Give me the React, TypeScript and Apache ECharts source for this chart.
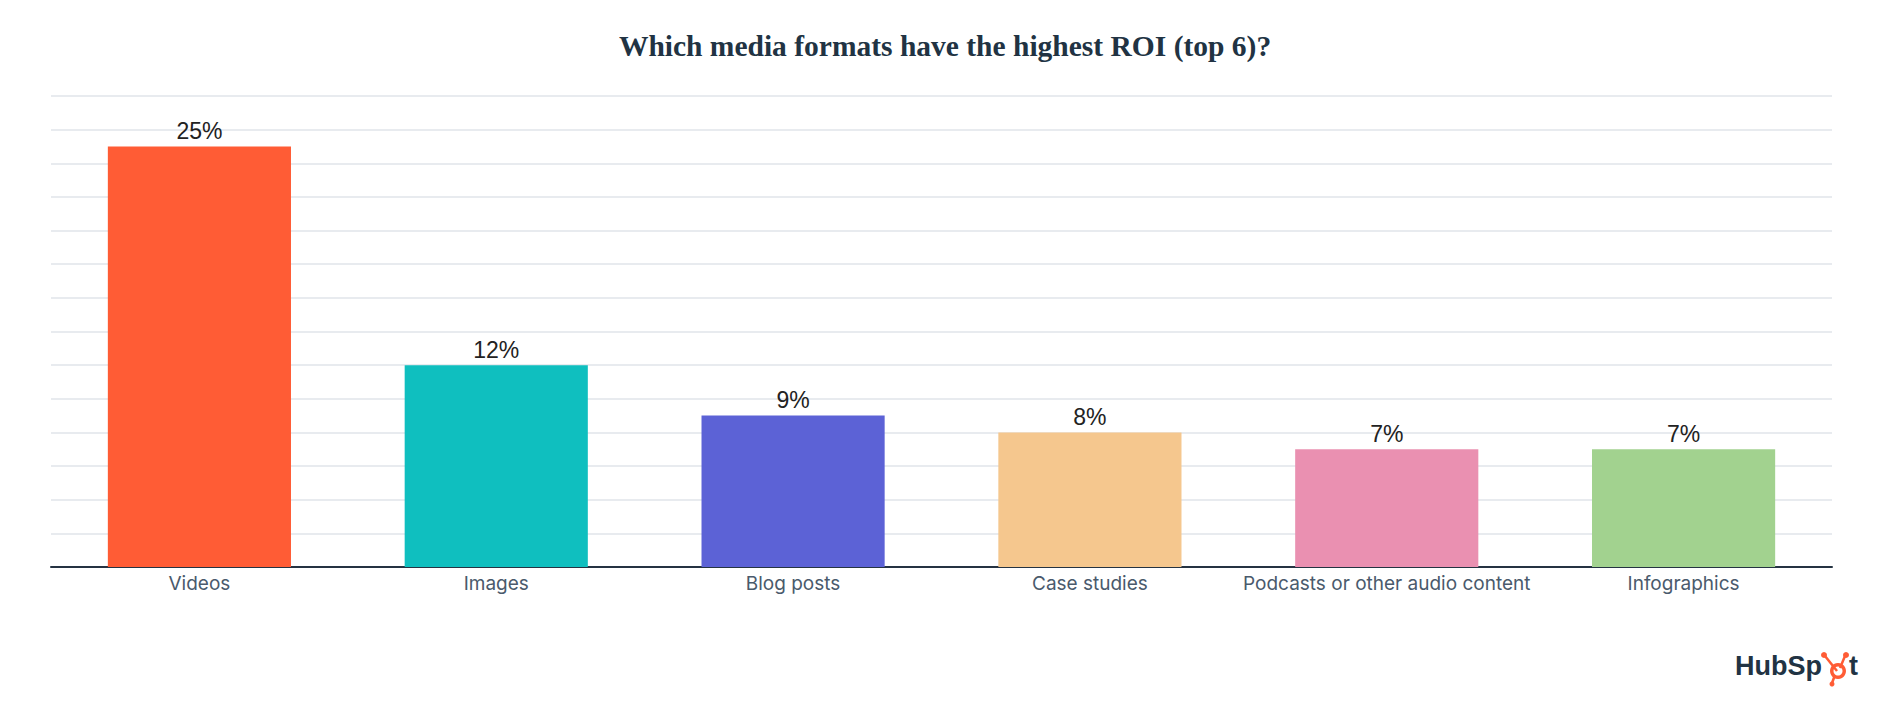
import React, { useEffect, useRef } from "react";
import * as echarts from "echarts";

const titleText = "Which media formats have the highest ROI (top 6)?";
const categories = [
  "Videos",
  "Images",
  "Blog posts",
  "Case studies",
  "Podcasts or other audio content",
  "Infographics",
];
const values = [25, 12, 9, 8, 7, 7];
const barColors = ["#FF5C35", "#0FBFBF", "#5C62D6", "#F5C78E", "#EA90B1", "#A2D28F"];
const yMin = 0;
const yMax = 28;
const yInterval = 2;

export default function App() {
  const ref = useRef<HTMLDivElement>(null);
  useEffect(() => {
    if (!ref.current) return;
    const chart = echarts.init(ref.current, undefined, { renderer: "svg" });
    const navy = "#213343";
    chart.setOption({
      animation: false,
      backgroundColor: "#ffffff",
      title: {
        text: titleText,
        left: 940,
        top: 26,
        textAlign: "center",
        textStyle: {
          fontFamily: "Liberation Serif",
          fontWeight: "bold",
          fontSize: 29.5,
          color: navy,
        },
      },
      grid: { left: 51, right: 68, top: 96, bottom: 135, containLabel: false },
      xAxis: {
        type: "category",
        data: categories,
        axisTick: { show: false },
        axisLine: { show: true, lineStyle: { color: "#253342", width: 2 } },
        axisLabel: {
          margin: 7,
          fontFamily: "Inter",
          fontSize: 19,
          color: "#4a5a6c",
          interval: 0,
        },
      },
      yAxis: {
        type: "value",
        min: yMin,
        max: yMax,
        interval: yInterval,
        axisLabel: { show: false },
        axisLine: { show: false },
        axisTick: { show: false },
        splitLine: { show: true, lineStyle: { color: "#e1e4ea", width: 1.5 } },
      },
      series: [
        {
          type: "bar",
          barWidth: "61.7%",
          data: values.map((v, i) => ({ value: v, itemStyle: { color: barColors[i] } })),
          label: {
            show: true,
            position: "top",
            distance: 4,
            formatter: "{c}%",
            fontFamily: "Liberation Sans",
            fontSize: 23,
            color: "#222222",
          },
        },
      ],
      graphic: [
        {
          type: "text",
          x: 1822,
          y: 679,
          style: {
            text: "HubSp",
            textAlign: "right",
            textVerticalAlign: "bottom",
            font: "bold 27px 'Liberation Sans'",
            fill: navy,
          },
        },
        {
          type: "text",
          x: 1849,
          y: 679,
          style: {
            text: "t",
            textAlign: "left",
            textVerticalAlign: "bottom",
            font: "bold 27px 'Liberation Sans'",
            fill: navy,
          },
        },
        {
          type: "group",
          children: [
            { type: "line", shape: { x1: 1837, y1: 671, x2: 1825, y2: 656 }, style: { stroke: "#FF5C35", lineWidth: 2.5 } },
            { type: "line", shape: { x1: 1840, y1: 668, x2: 1845, y2: 656 }, style: { stroke: "#FF5C35", lineWidth: 2.5 } },
            { type: "line", shape: { x1: 1835, y1: 675, x2: 1832, y2: 683 }, style: { stroke: "#FF5C35", lineWidth: 2.5 } },
            { type: "circle", shape: { cx: 1824, cy: 655, r: 3 }, style: { fill: "#FF5C35" } },
            { type: "circle", shape: { cx: 1846, cy: 655, r: 3 }, style: { fill: "#FF5C35" } },
            { type: "circle", shape: { cx: 1832, cy: 684, r: 2.5 }, style: { fill: "#FF5C35" } },
            { type: "ring", shape: { cx: 1838, cy: 671, r: 8, r0: 4.5 }, style: { fill: "#FF5C35" } },
          ],
        },
      ],
    });
    return () => chart.dispose();
  }, []);
  return (
    <div
      ref={ref}
      style={{ position: "absolute", left: 0, top: 0, width: 1900, height: 702 }}
    />
  );
}
